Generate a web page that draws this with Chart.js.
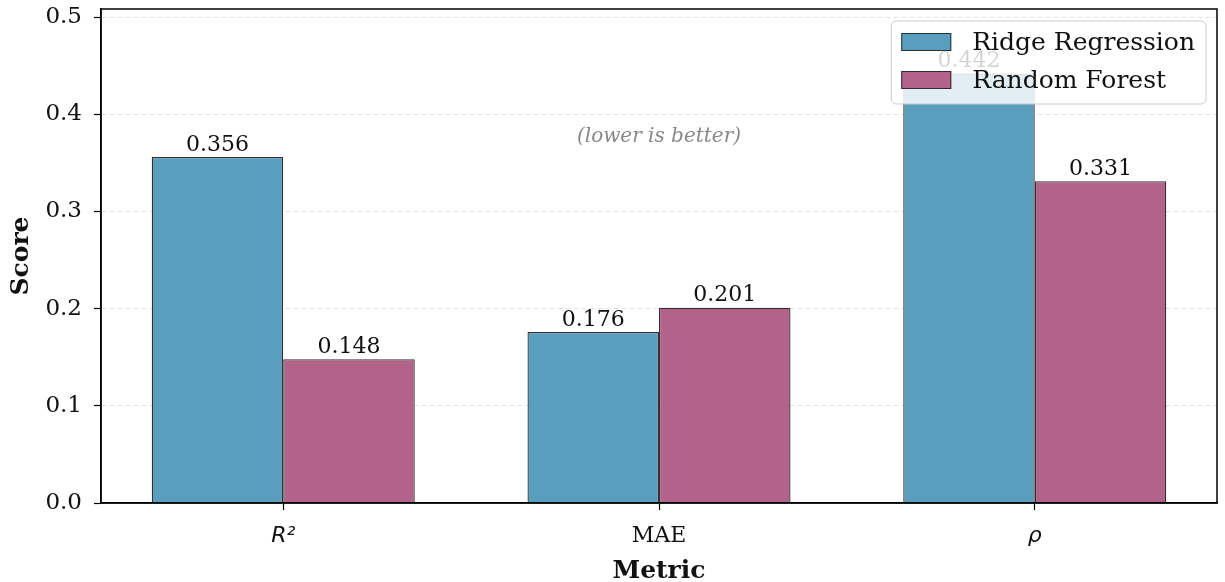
<!DOCTYPE html>
<html>
<head>
<meta charset="utf-8">
<script src="https://cdn.jsdelivr.net/npm/chart.js@4.4.1/dist/chart.umd.min.js"></script>
<style>
  html, body { margin: 0; padding: 0; background: #fff; }
  #wrap { width: 1225px; height: 582px; position: relative; }
</style>
</head>
<body>
<div id="wrap"><canvas id="c" width="1225" height="582"></canvas></div>
<script>
// ---- data ----
const categories = ['R²', 'MAE', 'ρ'];
const seriesNames = ['Ridge Regression', 'Random Forest'];
const ridgeValues = [0.356, 0.176, 0.442];
const forestValues = [0.148, 0.201, 0.331];
const yTickValues = [0.0, 0.1, 0.2, 0.3, 0.4, 0.5];
const annotationText = '(lower is better)';
const annotationPoint = [1, 0.377];

const SERIF = '"DejaVu Serif", serif';
const SANS = '"DejaVu Sans", sans-serif';
const colors = ['#5a9ebd', '#b3628a'];

function toPoints(vals) { return vals.map((v, i) => ({ x: i, y: v })); }

const frameAndLabels = {
  id: 'frameAndLabels',
  afterDatasetsDraw(chart) {
    const ctx = chart.ctx;
    const a = chart.chartArea;
    ctx.save();
    ctx.font = '22px ' + SERIF;
    ctx.fillStyle = '#111';
    ctx.textAlign = 'center';
    ctx.textBaseline = 'bottom';
    chart.data.datasets.forEach((ds, di) => {
      const meta = chart.getDatasetMeta(di);
      meta.data.forEach((el, i) => {
        ctx.fillText(ds.data[i].y.toFixed(3), el.x, el.y - 1);
      });
    });
    const xs = chart.scales.x, ys = chart.scales.y;
    ctx.font = 'italic 20px ' + SERIF;
    ctx.fillStyle = '#888888';
    ctx.textBaseline = 'middle';
    ctx.fillText(annotationText, xs.getPixelForValue(annotationPoint[0]), ys.getPixelForValue(annotationPoint[1]));
    ctx.strokeStyle = '#000';
    ctx.lineWidth = 1.5;
    ctx.strokeRect(a.left, a.top, a.right - a.left, a.bottom - a.top);
    ctx.restore();
  },
  afterDraw(chart) {
    const ctx = chart.ctx;
    const a = chart.chartArea;
    ctx.save();
    ctx.font = '25px ' + SERIF;
    const tw = Math.max(...chart.data.datasets.map(d => ctx.measureText(d.label).width));
    const patchW = 50, patchH = 18, padL = 10, gap = 21, padR = 11, rowH = 38;
    const boxW = padL + patchW + gap + tw + padR;
    const boxH = 83;
    const bx = a.right - 11 - boxW, by = a.top + 12;
    ctx.beginPath();
    ctx.roundRect(bx, by, boxW, boxH, 5);
    ctx.fillStyle = 'rgba(255,255,255,0.82)';
    ctx.fill();
    ctx.strokeStyle = '#cccccc';
    ctx.lineWidth = 1;
    ctx.stroke();
    chart.data.datasets.forEach((d, i) => {
      const cy = by + 21 + i * rowH;
      ctx.fillStyle = d.backgroundColor;
      ctx.fillRect(bx + padL, cy - patchH / 2, patchW, patchH);
      ctx.strokeStyle = 'rgba(30,30,30,0.85)';
      ctx.lineWidth = 1;
      ctx.strokeRect(bx + padL + 0.5, cy - patchH / 2 + 0.5, patchW - 1, patchH - 1);
      ctx.fillStyle = '#111';
      ctx.textAlign = 'left';
      ctx.textBaseline = 'middle';
      ctx.fillText(d.label, bx + padL + patchW + gap, cy + 1);
    });
    ctx.restore();
  }
};

new Chart(document.getElementById('c'), {
  type: 'bar',
  data: {
    datasets: [
      { label: seriesNames[0], data: toPoints(ridgeValues), backgroundColor: colors[0],
        borderColor: 'rgba(25,25,25,0.9)', borderWidth: 1.3 },
      { label: seriesNames[1], data: toPoints(forestValues), backgroundColor: colors[1],
        borderColor: 'rgba(25,25,25,0.9)', borderWidth: 1.3 }
    ]
  },
  options: {
    responsive: false,
    animation: false,
    devicePixelRatio: 1,
    categoryPercentage: 0.7,
    barPercentage: 1.0,
    layout: { padding: { top: 0, right: 8, left: 0, bottom: 0 } },
    plugins: { legend: { display: false }, tooltip: { enabled: false } },
    scales: {
      x: {
        type: 'linear',
        offset: false,
        min: -0.485,
        max: 2.485,
        afterBuildTicks: s => { s.ticks = categories.map((c, i) => ({ value: i })); },
        afterFit: s => { s.height = 79; s.paddingLeft = 0; s.paddingRight = 0; },
        ticks: {
          callback: v => categories[v],
          color: '#111',
          padding: 13,
          maxRotation: 0,
          autoSkip: false,
          font: ctx => (ctx.index === 1 ? { family: SERIF, size: 22, style: 'normal' } : { family: SANS, size: 22, style: 'italic' })
        },
        grid: { drawOnChartArea: false, offset: false, tickLength: 7, tickColor: '#000', tickWidth: 1.2 },
        border: { color: '#000', width: 1.5 },
        title: { display: true, text: 'Metric', color: '#111', font: { family: SERIF, size: 25, weight: 'bold' }, padding: { top: 0, bottom: -4 } }
      },
      y: {
        min: 0,
        max: 0.5083,
        afterBuildTicks: s => { s.ticks = yTickValues.map(v => ({ value: v })); },
        afterFit: s => { s.width = 101; s.paddingTop = 9; s.paddingBottom = 0; },
        ticks: { callback: v => v.toFixed(1), color: '#111', padding: 12, font: { family: SERIF, size: 23 } },
        grid: { color: '#e3e3e3', lineWidth: 1, tickLength: 7, tickColor: '#000', tickWidth: 1.2 },
        border: { color: '#000', width: 1.5, dash: [5, 3] },
        title: { display: true, text: 'Score', color: '#111', font: { family: SERIF, size: 25, weight: 'bold' }, padding: { top: 6, bottom: 0 } }
      }
    }
  },
  plugins: [frameAndLabels]
});
</script>
</body>
</html>
